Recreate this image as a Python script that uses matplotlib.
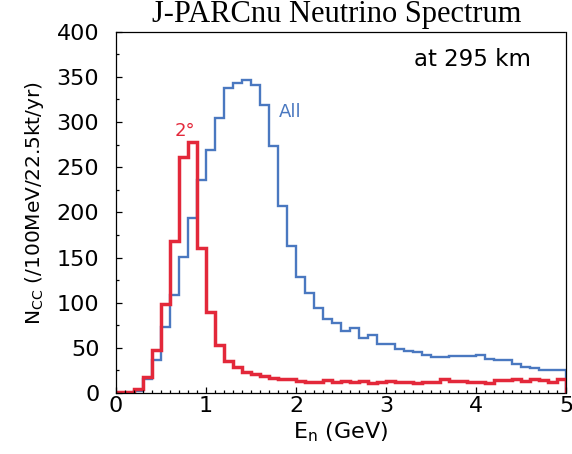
import numpy as np
import matplotlib
matplotlib.use("Agg")
import matplotlib.pyplot as plt
from matplotlib.ticker import MultipleLocator

edges = np.round(np.arange(0, 5.01, 0.1), 2)

all_vals = [0, 0, 2, 15, 37, 73, 109, 151, 194, 236,
            269, 305, 338, 343, 347, 341, 319, 273, 207, 163,
            128, 111, 94, 82, 77, 69, 72, 61, 64, 54,
            54, 49, 47, 45, 42, 40, 40, 41, 41, 41,
            42, 38, 37, 37, 32, 29, 28, 26, 26, 25]

second_vals = [1, 1, 4, 18, 48, 98, 168, 261, 278, 160,
               90, 53, 35, 29, 23, 21, 19, 17, 16, 15,
               13, 12, 12, 14, 12, 13, 12, 13, 11, 12,
               13, 12, 12, 11, 12, 12, 15, 13, 13, 12,
               12, 11, 14, 14, 15, 13, 15, 14, 12, 16]

fig = plt.figure(figsize=(5.72, 4.54), dpi=100)
ax = fig.add_axes([116 / 572, 1 - 393 / 454, 450 / 572, 361.3 / 454])

sans = ["DejaVu Sans"]
serif = ["Liberation Serif", "DejaVu Serif"]

ax.stairs(all_vals, edges, color="#4a78c0", linewidth=1.7)
ax.stairs(second_vals, edges, color="#e3283a", linewidth=2.5)

ax.set_xlim(0, 5)
ax.set_ylim(0, 400)
ax.xaxis.set_major_locator(MultipleLocator(1))
ax.xaxis.set_minor_locator(MultipleLocator(0.1))
ax.yaxis.set_major_locator(MultipleLocator(50))
ax.yaxis.set_minor_locator(MultipleLocator(25))
ax.tick_params(which="both", direction="in", top=False, right=False)
ax.tick_params(which="major", length=4, width=0.9, labelsize=16)
ax.tick_params(axis="x", which="major", pad=2)
ax.tick_params(axis="y", which="major", pad=12)
ax.tick_params(which="minor", length=2.5, width=0.9)
for lab in ax.get_xticklabels() + ax.get_yticklabels():
    lab.set_fontfamily(sans)

for sp in ax.spines.values():
    sp.set_linestyle((0, (2, 1)))
    sp.set_linewidth(0.9)

ax.set_xlabel(r"E$_\mathregular{n}$ (GeV)", fontsize=16, family=sans, labelpad=3)
ax.set_ylabel(r"N$_\mathregular{CC}$ (/100MeV/22.5kt/yr)", fontsize=14.5, family=sans)
ax.yaxis.set_label_coords(-0.155, 0.525)

fig.text(0.589, 0.968, "J-PARCnu Neutrino Spectrum", ha="center", va="center",
         fontsize=22, family=serif)

fig.text(472 / 572, 1 - 60 / 454, "at 295 km", ha="center", va="center",
         fontsize=16.5, family=sans)
ax.text(1.94, 311, "All", color="#4a78c0", fontsize=13, family=sans, ha="center", va="center")
ax.text(0.77, 290, "2°", color="#e3283a", fontsize=13, family=sans, ha="center", va="center")

fig.savefig("out.png", dpi=100)
